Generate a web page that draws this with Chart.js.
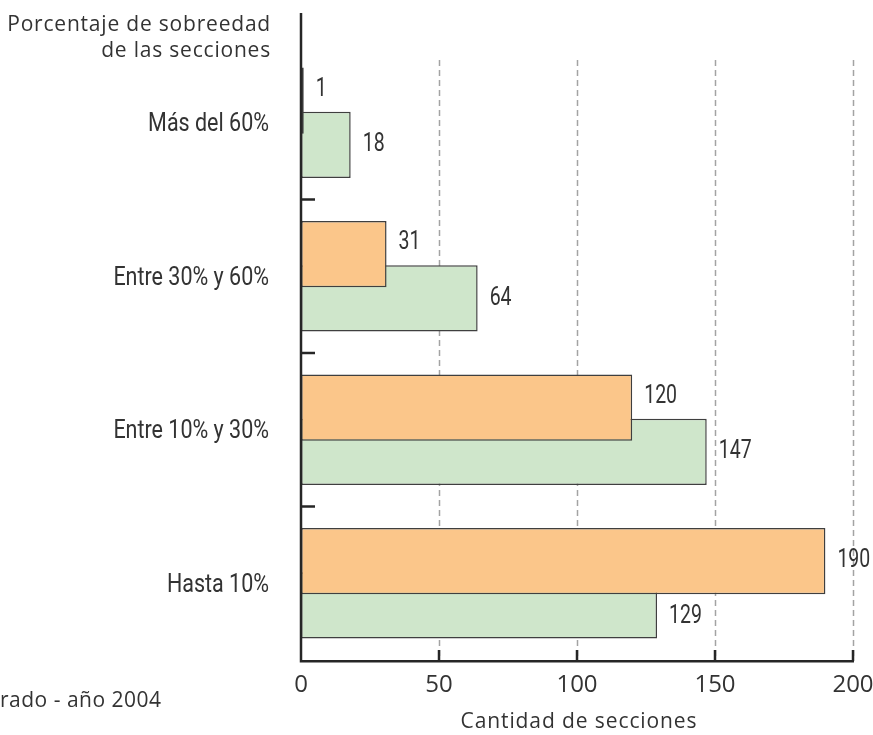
<!DOCTYPE html>
<html>
<head>
<meta charset="utf-8">
<script src="https://cdn.jsdelivr.net/npm/chart.js@4.4.1/dist/chart.umd.min.js"></script>
<style>
  html, body { margin: 0; padding: 0; background: #ffffff; }
  #wrap { width: 873px; height: 735px; position: relative; }
</style>
</head>
<body>
<div id="wrap"><canvas id="chart" width="873" height="735"></canvas></div>
<script>
// Secciones según porcentaje de sobreedad
const categories = ['Más del 60%', 'Entre 30% y 60%', 'Entre 10% y 30%', 'Hasta 10%'];
const seriesOrange = [1, 31, 120, 190];
const seriesGreen = [18, 64, 147, 129];
const xTickValues = [0, 50, 100, 150, 200];
const titleLines = ['Porcentaje de sobreedad', 'de las secciones'];
const xAxisTitle = 'Cantidad de secciones';
const footnote = 'rado - año 2004';

const TEXT = '#333333';
const WIDE_FONT = '"Open Sans", "Liberation Sans", sans-serif';
const NARROW_FONT = 'Roboto, "Liberation Sans", sans-serif';

// draw text squeezed horizontally around its anchor point
function narrowText(ctx, text, x, y, align, sx) {
  ctx.save();
  ctx.translate(x, y);
  ctx.scale(sx, 1);
  ctx.textAlign = align;
  ctx.fillText(text, 0, 0);
  ctx.restore();
}

// Extra drawing: dashed guides, axis lines, tick marks, labels, titles
const decorations = {
  id: 'decorations',
  beforeDatasetsDraw(chart) {
    const { ctx, chartArea, scales } = chart;
    ctx.save();
    ctx.strokeStyle = '#a3a3a3';
    ctx.lineWidth = 1.5;
    ctx.setLineDash([6, 4]);
    xTickValues.forEach(v => {
      if (v === 0) return;
      const x = Math.round(scales.x.getPixelForValue(v)) + 0.5;
      ctx.beginPath();
      ctx.moveTo(x, 60);
      ctx.lineTo(x, chartArea.bottom);
      ctx.stroke();
    });
    ctx.restore();
  },
  afterDatasetsDraw(chart) {
    const { ctx, chartArea, scales } = chart;
    const x0 = chartArea.left;
    const yb = chartArea.bottom;
    ctx.save();
    ctx.strokeStyle = '#262626';
    ctx.lineWidth = 2.5;
    ctx.setLineDash([]);
    // axis lines
    ctx.beginPath();
    ctx.moveTo(x0, 13);
    ctx.lineTo(x0, yb + 1.25);
    ctx.lineTo(scales.x.getPixelForValue(200) + 1, yb + 1.25);
    ctx.stroke();
    // x tick marks pointing up
    xTickValues.forEach(v => {
      if (v === 0) return;
      const x = scales.x.getPixelForValue(v);
      ctx.beginPath();
      ctx.moveTo(x, yb + 1);
      ctx.lineTo(x, yb - 10);
      ctx.stroke();
    });
    // y tick marks between categories
    for (let i = 0; i < categories.length - 1; i++) {
      const y = (scales.y.getPixelForValue(i) + scales.y.getPixelForValue(i + 1)) / 2;
      ctx.beginPath();
      ctx.moveTo(x0, y);
      ctx.lineTo(x0 + 14, y);
      ctx.stroke();
    }

    ctx.fillStyle = TEXT;
    ctx.font = '25px ' + NARROW_FONT;
    ctx.textBaseline = 'middle';

    // category labels
    categories.forEach((c, i) => {
      narrowText(ctx, c, 269, scales.y.getPixelForValue(i) + 2, 'right', 0.86);
    });

    // value labels at the end of each bar
    const metas = [chart.getDatasetMeta(0), chart.getDatasetMeta(1)];
    const sets = [seriesOrange, seriesGreen];
    for (let d = 0; d < 2; d++) {
      const other = 1 - d;
      metas[d].data.forEach((el, i) => {
        const h = el.height;
        const top = el.y - h / 2, bot = el.y + h / 2;
        let y = el.y;
        if (sets[other][i] > sets[d][i]) {
          const o = metas[other].data[i];
          const ot = o.y - o.height / 2, ob = o.y + o.height / 2;
          if (ot > top) y = (top + ot) / 2;
          else y = (ob + bot) / 2;
        }
        narrowText(ctx, String(sets[d][i]), el.x + 12, y, 'left', 0.78);
      });
    }

    // header over the category labels
    ctx.font = '21px ' + WIDE_FONT;
    ctx.letterSpacing = '0.8px';
    ctx.textAlign = 'right';
    ctx.textBaseline = 'alphabetic';
    ctx.fillText(titleLines[0], 271, 31);
    ctx.fillText(titleLines[1], 271, 57);

    // axis title
    ctx.letterSpacing = '0.9px';
    ctx.textAlign = 'center';
    ctx.fillText(xAxisTitle, (chartArea.left + chartArea.right) / 2 + 2, 728);

    // source note
    ctx.letterSpacing = '0.5px';
    ctx.textAlign = 'left';
    ctx.fillText(footnote, 0, 707);
    ctx.restore();
  }
};

new Chart(document.getElementById('chart'), {
  type: 'bar',
  data: {
    labels: categories,
    datasets: [
      {
        data: seriesOrange,
        backgroundColor: '#fbc68a',
        borderColor: '#3f3f3f',
        borderWidth: 1.5,
        borderSkipped: false,
        categoryPercentage: 0.575,
        barPercentage: 1.5
      },
      {
        data: seriesGreen,
        backgroundColor: '#cfe6cb',
        borderColor: '#3f3f3f',
        borderWidth: 1.5,
        borderSkipped: false,
        categoryPercentage: 0.575,
        barPercentage: 1.5
      }
    ]
  },
  options: {
    indexAxis: 'y',
    responsive: false,
    animation: false,
    layout: { padding: { top: 46, right: 20, bottom: 0, left: 0 } },
    plugins: {
      legend: { display: false },
      tooltip: { enabled: false }
    },
    scales: {
      x: {
        type: 'linear',
        min: 0,
        max: 200,
        afterBuildTicks(scale) { scale.ticks = xTickValues.map(v => ({ value: v })); },
        afterFit(scale) { scale.paddingLeft = 0; scale.paddingRight = 0; scale.height = 75; },
        grid: { display: false, drawTicks: false },
        border: { display: false },
        ticks: {
          color: TEXT,
          padding: 11,
          maxRotation: 0,
          autoSkip: false,
          font: { family: WIDE_FONT, size: 24, weight: '400' }
        }
      },
      y: {
        type: 'category',
        offset: true,
        afterFit(scale) { scale.width = 301; },
        grid: { display: false, drawTicks: false },
        border: { display: false },
        ticks: { display: false }
      }
    }
  },
  plugins: [decorations]
});
</script>
</body>
</html>
